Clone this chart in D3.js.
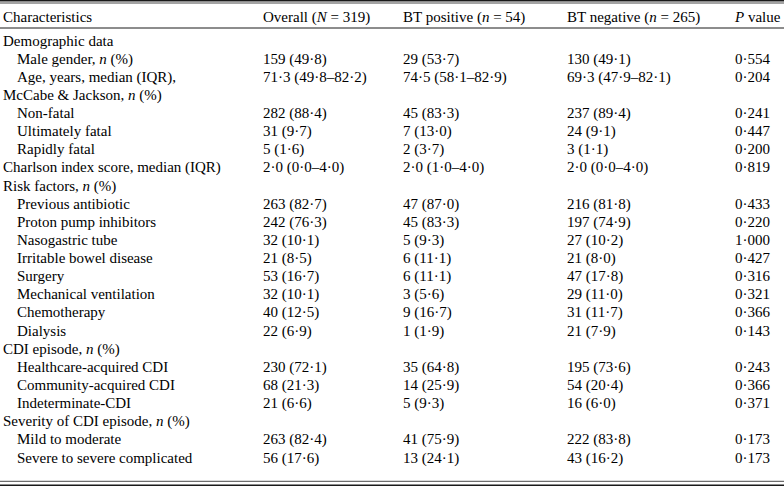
<!DOCTYPE html>
<html>
<head>
<meta charset="utf-8">
<script src="https://cdn.jsdelivr.net/npm/d3@7"></script>
<style>
  html, body { margin: 0; padding: 0; background: #fff; }
</style>
</head>
<body>
<div id="table"></div>
<script>
// column headers (*...* marks italic)
const headers = ["Characteristics", "Overall (*N* = 319)", "BT positive (*n* = 54)", "BT negative (*n* = 265)", "*P* value"];

// row labels and indent level (0 = section heading, 1 = sub item)
const labels = [
  "Demographic data",
  "Male gender, *n* (%)",
  "Age, years, median (IQR),",
  "McCabe & Jackson, *n* (%)",
  "Non-fatal",
  "Ultimately fatal",
  "Rapidly fatal",
  "Charlson index score, median (IQR)",
  "Risk factors, *n* (%)",
  "Previous antibiotic",
  "Proton pump inhibitors",
  "Nasogastric tube",
  "Irritable bowel disease",
  "Surgery",
  "Mechanical ventilation",
  "Chemotherapy",
  "Dialysis",
  "CDI episode, *n* (%)",
  "Healthcare-acquired CDI",
  "Community-acquired CDI",
  "Indeterminate-CDI",
  "Severity of CDI episode, *n* (%)",
  "Mild to moderate",
  "Severe to severe complicated"
];
const levels = [0, 1, 1, 0, 1, 1, 1, 0, 0, 1, 1, 1, 1, 1, 1, 1, 1, 0, 1, 1, 1, 0, 1, 1];

const overall = ["", "159 (49·8)", "71·3 (49·8–82·2)", "", "282 (88·4)", "31 (9·7)", "5 (1·6)", "2·0 (0·0–4·0)", "",
  "263 (82·7)", "242 (76·3)", "32 (10·1)", "21 (8·5)", "53 (16·7)", "32 (10·1)", "40 (12·5)", "22 (6·9)", "",
  "230 (72·1)", "68 (21·3)", "21 (6·6)", "", "263 (82·4)", "56 (17·6)"];
const btPositive = ["", "29 (53·7)", "74·5 (58·1–82·9)", "", "45 (83·3)", "7 (13·0)", "2 (3·7)", "2·0 (1·0–4·0)", "",
  "47 (87·0)", "45 (83·3)", "5 (9·3)", "6 (11·1)", "6 (11·1)", "3 (5·6)", "9 (16·7)", "1 (1·9)", "",
  "35 (64·8)", "14 (25·9)", "5 (9·3)", "", "41 (75·9)", "13 (24·1)"];
const btNegative = ["", "130 (49·1)", "69·3 (47·9–82·1)", "", "237 (89·4)", "24 (9·1)", "3 (1·1)", "2·0 (0·0–4·0)", "",
  "216 (81·8)", "197 (74·9)", "27 (10·2)", "21 (8·0)", "47 (17·8)", "29 (11·0)", "31 (11·7)", "21 (7·9)", "",
  "195 (73·6)", "54 (20·4)", "16 (6·0)", "", "222 (83·8)", "43 (16·2)"];
const pValues = ["", "0·554", "0·204", "", "0·241", "0·447", "0·200", "0·819", "",
  "0·433", "0·220", "1·000", "0·427", "0·316", "0·321", "0·366", "0·143", "",
  "0·243", "0·366", "0·371", "", "0·173", "0·173"];

const width = 784;
const height = 487;
const textColor = "#000";
const ruleColor = "#1a1a1a";
const fontSize = 15;

const columns = ["label", "overall", "pos", "neg", "p"];
const colX = d3.scaleOrdinal().domain(columns).range([3, 263, 403, 567, 735]);
const indentStep = 14;

const rowY = d3.scalePoint()
  .domain(d3.range(labels.length))
  .range([45.5, 462.5]);

const headerY = 22;

const svg = d3.select("#table")
  .append("svg")
  .attr("width", width)
  .attr("height", height)
  .style("font-family", "'Liberation Serif', 'Times New Roman', Times, serif")
  .style("font-size", fontSize + "px");

// write a string, turning *...* pieces into italic tspans
function richText(sel, str) {
  str.split("*").forEach((part, i) => {
    if (!part) return;
    const t = sel.append("tspan").text(part);
    if (i % 2 === 1) t.attr("font-style", "italic");
  });
}

// rules: double at top, single under header, double at bottom
const rules = [
  { y: 0.75, w: 1.5 },
  { y: 3, w: 0.8 },
  { y: 28, w: 1 },
  { y: 481.3, w: 0.8 },
  { y: 485.2, w: 1.5 }
];
svg.selectAll("line.rule")
  .data(rules)
  .join("line")
  .attr("class", "rule")
  .attr("x1", 0)
  .attr("x2", width)
  .attr("y1", (d) => d.y)
  .attr("y2", (d) => d.y)
  .attr("stroke", ruleColor)
  .attr("stroke-width", (d) => d.w);

// header
svg.selectAll("text.header")
  .data(headers)
  .join("text")
  .attr("class", "header")
  .attr("x", (d, i) => colX(columns[i]))
  .attr("y", headerY)
  .attr("fill", textColor)
  .each(function (d) { richText(d3.select(this), d); });

// body rows
const rows = labels.map((label, i) => ({
  label: label,
  level: levels[i],
  cells: [overall[i], btPositive[i], btNegative[i], pValues[i]]
}));

const rowG = svg.selectAll("g.row")
  .data(rows)
  .join("g")
  .attr("class", "row")
  .attr("transform", (d, i) => `translate(0,${rowY(i)})`);

rowG.append("text")
  .attr("x", (d) => colX("label") + d.level * indentStep)
  .attr("fill", textColor)
  .each(function (d) { richText(d3.select(this), d.label); });

rowG.selectAll("text.cell")
  .data((d) => d.cells.map((v, j) => ({ v, col: columns[j + 1] })).filter((c) => c.v))
  .join("text")
  .attr("class", "cell")
  .attr("x", (c) => colX(c.col))
  .attr("fill", textColor)
  .text((c) => c.v);
</script>
</body>
</html>
